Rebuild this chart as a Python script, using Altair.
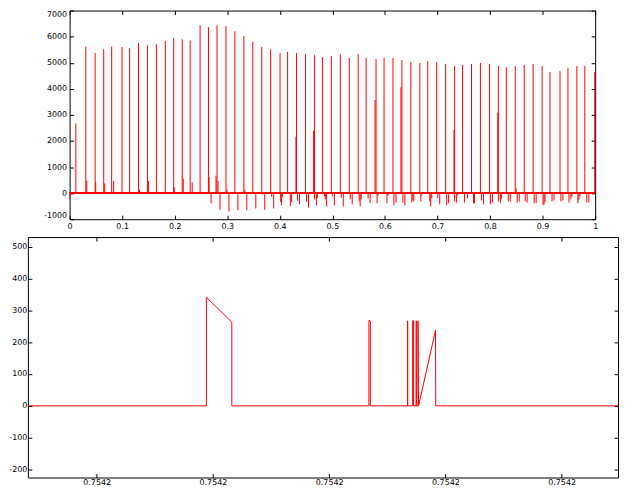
import altair as alt
import pandas as pd

# ---------------- top panel data ----------------
tall_x = [0.0119, 0.0308, 0.0486, 0.0649, 0.0800, 0.0997, 0.1141, 0.1311, 0.1481, 0.1651,
          0.1821, 0.1980, 0.2143, 0.2294, 0.2483, 0.2642, 0.2805, 0.2975, 0.3145, 0.3316,
          0.3486, 0.3656, 0.3826, 0.4004, 0.4148, 0.4318, 0.4488, 0.4659, 0.4810, 0.4980,
          0.5150, 0.5321, 0.5491, 0.5642, 0.5831, 0.5983, 0.6153, 0.6323, 0.6493, 0.6664,
          0.6815, 0.6985, 0.7155, 0.7326, 0.7477, 0.7647, 0.7817, 0.7988, 0.8158, 0.8309,
          0.8479, 0.8650, 0.8820, 0.8990, 0.9141, 0.9331, 0.9482, 0.9652, 0.9803, 0.9992]
tall_y = [2670, 5620, 5370, 5520, 5620, 5600, 5550, 5750, 5670, 5710,
          5830, 5940, 5900, 5850, 6440, 6360, 6440, 6400, 6210, 6020,
          5810, 5600, 5520, 5370, 5410, 5370, 5330, 5290, 5220, 5250,
          5330, 5180, 5330, 5180, 5140, 5180, 5180, 5100, 5030, 4990,
          5060, 5030, 4950, 4870, 4910, 4950, 4990, 4950, 4870, 4830,
          4870, 4910, 4950, 4870, 4640, 4680, 4800, 4870, 4870, 4640]

mid_x = [0.4307, 0.4640, 0.5812, 0.6304, 0.7314, 0.8146, 0.8498]
mid_y = [2160, 2390, 3570, 4060, 2420, 3080, 180]

small_x = [0.0327, 0.0497, 0.0668, 0.0838, 0.1330, 0.1500, 0.1992, 0.2162, 0.2332,
           0.2654, 0.2786, 0.2824, 0.2994, 0.3335]
small_y = [470, 410, 370, 470, 130, 470, 220, 560, 410, 620, 670, 470, 130, 130]

neg_x = [0.0006, 0.2692, 0.2862, 0.3032, 0.3202, 0.3372, 0.3543, 0.3675, 0.3713, 0.3845,
         0.3883, 0.4016, 0.4034, 0.4053, 0.4199, 0.4224, 0.4337, 0.4375, 0.4507, 0.4545,
         0.4659, 0.4696, 0.4715, 0.4848, 0.4867, 0.4886, 0.4999, 0.5037, 0.5169, 0.5207,
         0.5340, 0.5377, 0.5510, 0.5529, 0.5548, 0.5680, 0.5718, 0.5850, 0.5869, 0.6039,
         0.6058, 0.6172, 0.6210, 0.6342, 0.6380, 0.6512, 0.6531, 0.6550, 0.6683, 0.6701,
         0.6853, 0.6872, 0.6891, 0.7004, 0.7042, 0.7174, 0.7212, 0.7326, 0.7364, 0.7382,
         0.7515, 0.7571, 0.7685, 0.7704, 0.7836, 0.7874, 0.8006, 0.8044, 0.8158, 0.8196,
         0.8215, 0.8347, 0.8385, 0.8517, 0.8555, 0.8669, 0.8706, 0.8839, 0.8877, 0.9009,
         0.9028, 0.9047, 0.9179, 0.9217, 0.9349, 0.9387, 0.9501, 0.9539, 0.9558, 0.9671,
         0.9690, 0.9709, 0.9841, 0.9879]
neg_y = [-230, -390, -640, -710, -660, -660, -590, -60, -640, -140,
         -590, -340, -470, -140, -500, -340, -290, -430, -330, -550,
         -240, -470, -190, -130, -240, -510, -130, -470, -170, -510,
         -240, -430, -320, -510, -240, -200, -390, -390, -90, -390,
         -90, -470, -360, -360, -470, -360, -280, -320, -320, -90,
         -320, -510, -200, -200, -430, -470, -390, -320, -360, -90,
         -360, -200, -390, -390, -280, -430, -430, -360, -320, -390,
         -240, -320, -320, -360, -320, -320, -360, -390, -390, -470,
         -430, -320, -320, -280, -320, -280, -360, -240, -130, -390,
         -280, -130, -360, -360]

top_base_x = [0, 1]
top_base_y = [0, 0]
top_xticks = [0, 0.1, 0.2, 0.3, 0.4, 0.5, 0.6, 0.7, 0.8, 0.9, 1]
top_yticks = [-1000, 0, 1000, 2000, 3000, 4000, 5000, 6000, 7000]

# ---------------- bottom panel data ----------------
# x in tick units of the zoomed window (every tick is labelled 0.7542)
bot_x = [0.408, 1.9436, 1.9436, 2.1624, 2.1624, 3.342, 3.342, 3.354, 3.354,
         3.675, 3.675, 3.675, 3.718, 3.718, 3.726, 3.726, 3.749, 3.749, 3.749,
         3.764, 3.764, 3.769, 3.915, 3.917, 5.485]
bot_y = [0, 0, 341, 263, 0, 0, 269, 266, 0,
         0, 267, 0, 0, 267, 267, 0, 0, 267, 0,
         0, 267, 0, 237, 0, 0]
bot_xticks = [1, 2, 3, 4, 5]
bot_xlabel = "0.7542"
bot_yticks = [-200, -100, 0, 100, 200, 300, 400, 500]

RED = "#ff0000"
FONT = "DejaVu Sans"
FS = 8

spikes = pd.DataFrame({
    "x": tall_x + mid_x + small_x + neg_x,
    "y": tall_y + mid_y + small_y + neg_y,
})
spikes["y0"] = 0
top_base = pd.DataFrame({"x": top_base_x, "y": top_base_y})
bot = pd.DataFrame({"x": bot_x, "y": bot_y, "i": list(range(len(bot_x)))})


def axis(orient, values, labels=True, pad=3, expr=None, fmt=None, flush=False):
    kw = dict(orient=orient, values=values, title=None, grid=False, domain=False,
              tickSize=4, tickColor="black", tickWidth=1, labels=labels, offset=-4,
              labelFont=FONT, labelFontSize=FS, labelColor="black", labelPadding=pad,
              labelFlush=flush)
    if flush:
        kw["labelFlushOffset"] = 0
    if expr is not None:
        kw["labelExpr"] = expr
    if fmt is not None:
        kw["format"] = fmt
    return alt.Axis(**kw)


# ---------------- top chart ----------------
xs_t = alt.Scale(domain=[0, 1], nice=False, zero=False)
ys_t = alt.Scale(domain=[-1000, 7000], nice=False, zero=False)

t_base = alt.Chart(top_base).mark_line(color=RED, strokeWidth=2).encode(
    x=alt.X("x:Q", scale=xs_t, axis=axis("bottom", top_xticks, fmt="~g", pad=3)),
    y=alt.Y("y:Q", scale=ys_t, axis=axis("left", top_yticks, expr="datum.value + ''",
                                         pad=3, flush=True)),
)
t_spk = alt.Chart(spikes).mark_rule(color=RED, strokeWidth=1).encode(
    x=alt.X("x:Q", scale=xs_t, axis=None),
    y=alt.Y("y:Q", scale=ys_t, axis=None),
    y2="y0:Q",
)
t_mir = alt.Chart(top_base).mark_point(opacity=0, size=1).encode(
    x=alt.X("x:Q", scale=xs_t, axis=axis("top", top_xticks, labels=False)),
    y=alt.Y("y:Q", scale=ys_t, axis=axis("right", top_yticks, labels=False)),
)
top = alt.layer(t_base, t_spk, t_mir).properties(width=529, height=210)

spacer = alt.Chart(pd.DataFrame({"a": [0]})).mark_point(opacity=0, size=1).properties(
    width=15, height=1, view=alt.ViewBackground(strokeOpacity=0))

# ---------------- bottom chart ----------------
xs_b = alt.Scale(domain=[0.408, 5.485], nice=False, zero=False)
ys_b = alt.Scale(domain=[-225, 530], nice=False, zero=False)

b_line = alt.Chart(bot).mark_line(color=RED, strokeWidth=1).encode(
    x=alt.X("x:Q", scale=xs_b, axis=axis("bottom", bot_xticks, expr="'" + bot_xlabel + "'", pad=1)),
    y=alt.Y("y:Q", scale=ys_b, axis=axis("left", bot_yticks, expr="datum.value + ''", pad=1)),
    order=alt.Order("i:Q"),
)
b_mir = alt.Chart(bot).mark_point(opacity=0, size=1).encode(
    x=alt.X("x:Q", scale=xs_b, axis=axis("top", bot_xticks, labels=False)),
    y=alt.Y("y:Q", scale=ys_b, axis=axis("right", bot_yticks, labels=False)),
)
bottom = alt.layer(b_line, b_mir).properties(width=594, height=242)

chart = alt.vconcat(
    alt.hconcat(spacer, top, spacing=0),
    bottom,
    spacing=5,
).properties(
    padding={"left": 0, "top": 0, "right": 0, "bottom": 0}
).configure_view(stroke="black", strokeWidth=1)

chart.save("out.html", embed_options={"renderer": "svg", "actions": False})
